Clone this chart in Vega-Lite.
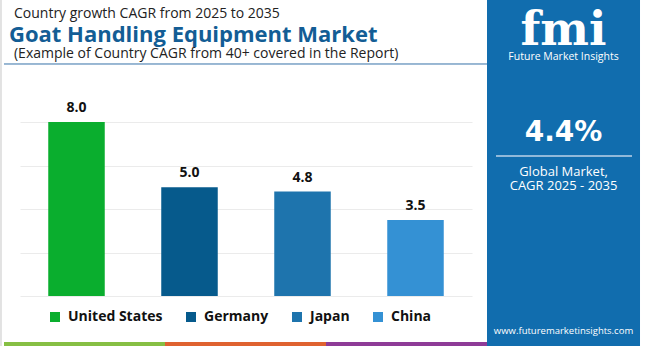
{
  "$schema": "https://vega.github.io/schema/vega-lite/v6.json",
  "width": 452,
  "height": 174,
  "autosize": "none",
  "padding": {"left": 20, "top": 122, "right": 178, "bottom": 50},
  "background": "white",
  "config": {"view": {"stroke": null}, "font": "Open Sans"},
  "resolve": {"scale": {"x": "independent", "y": "independent", "color": "independent"}},
  "layer": [
    {
      "data": {"values": [
        {"country": "United States", "cagr": 8.0},
        {"country": "Germany", "cagr": 5.0},
        {"country": "Japan", "cagr": 4.8},
        {"country": "China", "cagr": 3.5}
      ]},
      "encoding": {
        "x": {"field": "country", "type": "nominal", "sort": null, "axis": null,
              "scale": {"paddingInner": 0.5, "paddingOuter": 0.25}},
        "y": {"field": "cagr", "type": "quantitative",
              "scale": {"domain": [0, 8], "nice": false},
              "axis": {"values": [0, 2, 4, 6, 8], "grid": true, "gridColor": "#ebebeb", "gridWidth": 1,
                       "labels": false, "ticks": false, "domain": false, "title": null}}
      },
      "layer": [
        {
          "mark": {"type": "bar"},
          "encoding": {
            "color": {"field": "country", "type": "nominal", "sort": null,
                      "scale": {"domain": ["United States", "Germany", "Japan", "China"],
                                "range": ["#0aae2e", "#065a8c", "#1e74ad", "#3491d4"]},
                      "legend": {"orient": "none", "legendX": 28, "legendY": 188, "direction": "horizontal", "title": null,
                                 "symbolType": "square", "symbolSize": 100, "symbolStrokeWidth": 0,
                                 "labelFontSize": 14, "labelFontWeight": "bold", "labelColor": "#111111",
                                 "labelFont": "Open Sans", "columnPadding": 21, "labelOffset": 6}}
          }
        },
        {
          "mark": {"type": "text", "dy": -10, "baseline": "alphabetic", "fontSize": 14,
                   "fontWeight": "bold", "color": "#111111", "font": "Open Sans"},
          "encoding": {"text": {"field": "cagr", "type": "quantitative", "format": ".1f"}}
        }
      ]
    },
    {
      "data": {"values": [{}]},
      "encoding": {
        "x": {"datum": -0.0443, "type": "quantitative", "scale": {"domain": [0, 1], "nice": false, "zero": false}, "axis": null},
        "x2": {"datum": -0.0399},
        "y": {"datum": 13.61, "type": "quantitative", "scale": {"domain": [0, 8], "nice": false}, "axis": null},
        "y2": {"datum": -2.3}
      },
      "mark": {"type": "rect", "color": "#e2e2e2"}
    },
    {
      "data": {"values": [{}]},
      "encoding": {
        "x": {"datum": 1.0332, "type": "quantitative", "scale": {"domain": [0, 1], "nice": false, "zero": false}, "axis": null},
        "x2": {"datum": 1.3717},
        "y": {"datum": 13.61, "type": "quantitative", "scale": {"domain": [0, 8], "nice": false}, "axis": null},
        "y2": {"datum": -2.3}
      },
      "mark": {"type": "rect", "color": "#116dae"}
    },
    {
      "data": {"values": [
        {"band": "a", "start": -0.0354, "end": 0.3208},
        {"band": "b", "start": 0.3208, "end": 0.677},
        {"band": "c", "start": 0.677, "end": 1.0332}
      ]},
      "encoding": {
        "x": {"field": "start", "type": "quantitative", "scale": {"domain": [0, 1], "nice": false, "zero": false}, "axis": null},
        "x2": {"field": "end"},
        "y": {"datum": -2.115, "type": "quantitative", "scale": {"domain": [0, 8], "nice": false}, "axis": null},
        "y2": {"datum": -2.3},
        "color": {"field": "band", "type": "nominal", "legend": null,
                  "scale": {"domain": ["a", "b", "c"], "range": ["#86bf44", "#df6230", "#8e3b97"]}}
      },
      "mark": {"type": "rect"}
    },
    {
      "data": {"values": [{}]},
      "encoding": {
        "x": {"datum": -0.0354, "type": "quantitative", "scale": {"domain": [0, 1], "nice": false, "zero": false}, "axis": null},
        "x2": {"datum": 1.0332},
        "y": {"datum": 10.667, "type": "quantitative", "scale": {"domain": [0, 8], "nice": false}, "axis": null}
      },
      "mark": {"type": "rule", "color": "#3672a8", "strokeWidth": 1}
    },
    {
      "data": {"values": [{}]},
      "encoding": {
        "x": {"datum": 1.0531, "type": "quantitative", "scale": {"domain": [0, 1], "nice": false, "zero": false}, "axis": null},
        "x2": {"datum": 1.354},
        "y": {"datum": 6.437, "type": "quantitative", "scale": {"domain": [0, 8], "nice": false}, "axis": null}
      },
      "mark": {"type": "rule", "color": "#bcd3e8", "strokeWidth": 1.5}
    },
    {
      "data": {"values": [{}]},
      "encoding": {
        "x": {"datum": -0.0133, "type": "quantitative", "scale": {"domain": [0, 1], "nice": false, "zero": false}, "axis": null},
        "y": {"datum": 12.78, "type": "quantitative", "scale": {"domain": [0, 8], "nice": false}, "axis": null}
      },
      "mark": {"type": "text", "text": "Country growth CAGR from 2025 to 2035", "align": "left", "baseline": "alphabetic",
               "fontSize": 14, "color": "#222222", "font": "Open Sans"}
    },
    {
      "data": {"values": [{}]},
      "encoding": {
        "x": {"datum": -0.0243, "type": "quantitative", "scale": {"domain": [0, 1], "nice": false, "zero": false}, "axis": null},
        "y": {"datum": 11.678, "type": "quantitative", "scale": {"domain": [0, 8], "nice": false}, "axis": null}
      },
      "mark": {"type": "text", "text": "Goat Handling Equipment Market", "align": "left", "baseline": "alphabetic",
               "fontSize": 22, "fontWeight": "bold", "color": "#135d95", "font": "Open Sans"}
    },
    {
      "data": {"values": [{}]},
      "encoding": {
        "x": {"datum": -0.0133, "type": "quantitative", "scale": {"domain": [0, 1], "nice": false, "zero": false}, "axis": null},
        "y": {"datum": 10.943, "type": "quantitative", "scale": {"domain": [0, 8], "nice": false}, "axis": null}
      },
      "mark": {"type": "text", "text": "(Example of Country CAGR from 40+ covered in the Report)", "align": "left", "baseline": "alphabetic",
               "fontSize": 14, "color": "#222222", "font": "Open Sans"}
    },
    {
      "data": {"values": [{}]},
      "encoding": {
        "x": {"datum": 1.2025, "type": "quantitative", "scale": {"domain": [0, 1], "nice": false, "zero": false}, "axis": null},
        "y": {"datum": 11.54, "type": "quantitative", "scale": {"domain": [0, 8], "nice": false}, "axis": null}
      },
      "mark": {"type": "text", "text": "fmi", "align": "center", "baseline": "alphabetic",
               "fontSize": 46, "fontWeight": "bold", "color": "white", "font": "DejaVu Serif"}
    },
    {
      "data": {"values": [{}]},
      "encoding": {
        "x": {"datum": 1.2025, "type": "quantitative", "scale": {"domain": [0, 1], "nice": false, "zero": false}, "axis": null},
        "y": {"datum": 10.85, "type": "quantitative", "scale": {"domain": [0, 8], "nice": false}, "axis": null}
      },
      "mark": {"type": "text", "text": "Future Market Insights", "align": "center", "baseline": "alphabetic",
               "fontSize": 10.5, "color": "white", "font": "Open Sans"}
    },
    {
      "data": {"values": [{}]},
      "encoding": {
        "x": {"datum": 1.2025, "type": "quantitative", "scale": {"domain": [0, 1], "nice": false, "zero": false}, "axis": null},
        "y": {"datum": 7.126, "type": "quantitative", "scale": {"domain": [0, 8], "nice": false}, "axis": null}
      },
      "mark": {"type": "text", "text": "4.4%", "align": "center", "baseline": "alphabetic",
               "fontSize": 28, "fontWeight": "bold", "color": "white", "font": "DejaVu Sans"}
    },
    {
      "data": {"values": [{}]},
      "encoding": {
        "x": {"datum": 1.2025, "type": "quantitative", "scale": {"domain": [0, 1], "nice": false, "zero": false}, "axis": null},
        "y": {"datum": 5.517, "type": "quantitative", "scale": {"domain": [0, 8], "nice": false}, "axis": null}
      },
      "mark": {"type": "text", "text": "Global Market,", "align": "center", "baseline": "alphabetic",
               "fontSize": 13, "color": "white", "font": "Open Sans"}
    },
    {
      "data": {"values": [{}]},
      "encoding": {
        "x": {"datum": 1.2025, "type": "quantitative", "scale": {"domain": [0, 1], "nice": false, "zero": false}, "axis": null},
        "y": {"datum": 4.874, "type": "quantitative", "scale": {"domain": [0, 8], "nice": false}, "axis": null}
      },
      "mark": {"type": "text", "text": "CAGR 2025 - 2035", "align": "center", "baseline": "alphabetic",
               "fontSize": 13, "color": "white", "font": "Open Sans"}
    },
    {
      "data": {"values": [{}]},
      "encoding": {
        "x": {"datum": 1.2025, "type": "quantitative", "scale": {"domain": [0, 1], "nice": false, "zero": false}, "axis": null},
        "y": {"datum": -1.747, "type": "quantitative", "scale": {"domain": [0, 8], "nice": false}, "axis": null}
      },
      "mark": {"type": "text", "text": "www.futuremarketinsights.com", "align": "center", "baseline": "alphabetic",
               "fontSize": 9.5, "color": "white", "font": "Open Sans"}
    }
  ]
}
